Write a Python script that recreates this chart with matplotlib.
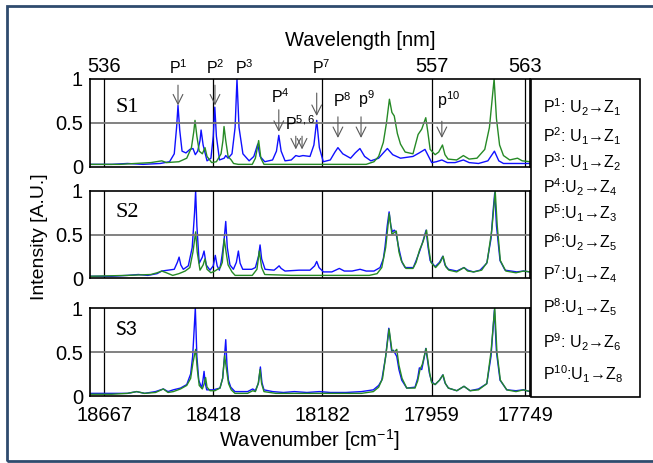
#!/usr/bin/env python3

import numpy as np
import matplotlib
matplotlib.use("Agg")
import matplotlib.pyplot as plt
from matplotlib.patches import Rectangle

# spectra: (wavelength nm, intensity A.U.)
s1_blue = [(535.10, 0.03), (536.5, 0.03), (537.5, 0.04), (538.5, 0.03), (539.6, 0.04), (540.2, 0.06),
           (540.5, 0.15), (540.65, 0.45), (540.74, 0.70), (540.85, 0.42), (541.0, 0.18), (541.25, 0.16),
           (541.5, 0.20), (541.7, 0.21), (541.85, 0.14), (542.0, 0.18), (542.15, 0.30), (542.22, 0.42),
           (542.35, 0.25), (542.6, 0.07), (542.85, 0.10), (543.0, 0.35), (543.1, 0.68), (543.2, 0.35),
           (543.4, 0.08), (543.7, 0.10), (543.8, 0.13), (543.95, 0.10), (544.2, 0.15), (544.4, 0.45),
           (544.52, 1.0), (544.65, 0.45), (544.9, 0.15), (545.3, 0.07), (545.6, 0.12), (545.85, 0.26),
           (546.0, 0.12), (546.3, 0.06), (546.8, 0.08), (547.05, 0.18), (547.2, 0.36), (547.35, 0.18),
           (547.6, 0.07), (548.0, 0.08), (548.29, 0.13), (548.5, 0.12), (548.75, 0.13), (549.2, 0.12),
           (549.45, 0.25), (549.63, 0.53), (549.8, 0.22), (550.05, 0.06), (550.5, 0.08), (550.8, 0.17),
           (550.99, 0.22), (551.3, 0.15), (551.8, 0.10), (552.1, 0.16), (552.4, 0.21), (552.7, 0.12),
           (553.1, 0.07), (553.6, 0.10), (553.95, 0.17), (554.16, 0.21), (554.5, 0.14), (555.0, 0.10),
           (555.8, 0.12), (556.2, 0.16), (556.57, 0.20), (556.8, 0.12), (557.0, 0.05), (557.3, 0.06),
           (557.65, 0.08), (558.0, 0.05), (558.5, 0.05), (559.03, 0.08), (559.4, 0.05), (560.0, 0.04),
           (560.6, 0.07), (561.02, 0.18), (561.3, 0.07), (561.6, 0.04), (562.5, 0.04), (563.31, 0.04)]
s1_green = [(535.10, 0.03), (537.0, 0.03), (538.0, 0.04), (539.0, 0.05), (539.7, 0.07), (540.0, 0.05),
            (540.8, 0.06), (541.3, 0.10), (541.6, 0.22), (541.75, 0.40), (541.83, 0.53), (541.95, 0.35),
            (542.1, 0.18), (542.3, 0.15), (542.47, 0.22), (542.6, 0.12), (542.9, 0.05), (543.2, 0.06),
            (543.5, 0.15), (543.62, 0.30), (543.69, 0.46), (543.8, 0.30), (543.95, 0.12), (544.15, 0.08),
            (544.3, 0.04), (544.6, 0.03), (545.5, 0.03), (545.7, 0.10), (545.91, 0.30), (546.05, 0.10),
            (546.25, 0.03), (548.0, 0.03), (550.0, 0.03), (552.0, 0.03), (552.8, 0.03), (553.3, 0.06),
            (553.6, 0.12), (553.9, 0.28), (554.1, 0.50), (554.29, 0.77), (554.45, 0.62), (554.6, 0.58),
            (554.8, 0.38), (555.0, 0.26), (555.3, 0.17), (555.8, 0.15), (556.13, 0.37), (556.36, 0.43),
            (556.62, 0.56), (556.75, 0.40), (556.9, 0.20), (557.22, 0.14), (557.45, 0.17), (557.69, 0.25),
            (557.85, 0.14), (558.05, 0.09), (558.6, 0.08), (559.03, 0.13), (559.4, 0.09), (559.9, 0.10),
            (560.4, 0.20), (560.7, 0.45), (561.0, 1.0), (561.15, 0.55), (561.35, 0.25), (561.6, 0.13),
            (562.0, 0.08), (562.5, 0.10), (562.8, 0.07), (563.31, 0.06)]
s2_blue = [(535.10, 0.02), (536.5, 0.02), (537.5, 0.03), (538.2, 0.04), (538.8, 0.03), (539.4, 0.05),
           (539.7, 0.08), (540.1, 0.09), (540.5, 0.10), (540.7, 0.18), (540.81, 0.24), (540.92, 0.15),
           (541.08, 0.10), (541.4, 0.14), (541.65, 0.35), (541.8, 0.75), (541.87, 1.0), (541.95, 0.60),
           (542.1, 0.17), (542.3, 0.24), (542.41, 0.31), (542.55, 0.15), (542.79, 0.09), (543.0, 0.14),
           (543.13, 0.26), (543.25, 0.14), (543.39, 0.09), (543.5, 0.18), (543.58, 0.28), (543.7, 0.45),
           (543.8, 0.65), (543.9, 0.35), (544.07, 0.15), (544.29, 0.10), (544.48, 0.18), (544.61, 0.31),
           (544.72, 0.17), (544.89, 0.10), (545.47, 0.10), (545.7, 0.12), (545.9, 0.25), (546.0, 0.38),
           (546.1, 0.22), (546.32, 0.10), (546.9, 0.09), (547.1, 0.12), (547.22, 0.14), (547.35, 0.11),
           (547.6, 0.08), (548.5, 0.09), (549.2, 0.09), (549.5, 0.14), (549.63, 0.19), (549.78, 0.12),
           (550.06, 0.07), (550.6, 0.07), (551.08, 0.11), (551.4, 0.08), (551.9, 0.08), (552.41, 0.10),
           (552.8, 0.08), (553.3, 0.08), (553.69, 0.12), (553.9, 0.22), (554.01, 0.36), (554.15, 0.60),
           (554.27, 0.76), (554.38, 0.60), (554.48, 0.53), (554.6, 0.55), (554.7, 0.53), (554.85, 0.38),
           (554.97, 0.28), (555.1, 0.18), (555.29, 0.12), (555.82, 0.12), (556.0, 0.20), (556.21, 0.30),
           (556.4, 0.40), (556.64, 0.55), (556.77, 0.35), (556.9, 0.20), (557.22, 0.13), (557.5, 0.18),
           (557.71, 0.25), (557.85, 0.15), (558.07, 0.10), (558.61, 0.08), (559.07, 0.12), (559.3, 0.09),
           (559.67, 0.07), (560.1, 0.09), (560.53, 0.17), (560.8, 0.45), (560.95, 0.80), (561.04, 0.98),
           (561.15, 0.60), (561.38, 0.20), (561.7, 0.09), (562.45, 0.07), (562.88, 0.08), (563.31, 0.07)]
s2_green = [(535.10, 0.02), (537.5, 0.03), (538.2, 0.035), (539.0, 0.04), (539.4, 0.06), (539.7, 0.08),
            (540.0, 0.06), (540.4, 0.03), (540.8, 0.05), (541.2, 0.08), (541.5, 0.12), (541.7, 0.30),
            (541.87, 0.53), (541.97, 0.30), (542.15, 0.09), (542.35, 0.15), (542.47, 0.22), (542.6, 0.10),
            (542.85, 0.06), (543.1, 0.08), (543.45, 0.12), (543.58, 0.18), (543.7, 0.45), (543.82, 0.30),
            (543.95, 0.15), (544.2, 0.07), (544.4, 0.03), (545.5, 0.03), (545.8, 0.10), (545.95, 0.31),
            (546.1, 0.12), (546.3, 0.04), (548.0, 0.03), (550.0, 0.03), (552.0, 0.03), (553.0, 0.03),
            (553.5, 0.05), (553.8, 0.12), (554.05, 0.35), (554.28, 0.74), (554.45, 0.50), (554.58, 0.52),
            (554.73, 0.54), (554.9, 0.30), (555.05, 0.20), (555.35, 0.11), (555.8, 0.11), (556.0, 0.18),
            (556.22, 0.32), (556.45, 0.42), (556.67, 0.55), (556.8, 0.35), (556.95, 0.18), (557.25, 0.12),
            (557.55, 0.18), (557.73, 0.25), (557.9, 0.13), (558.1, 0.09), (558.6, 0.07), (559.07, 0.12),
            (559.3, 0.08), (559.7, 0.07), (560.2, 0.09), (560.55, 0.18), (560.85, 0.55), (561.07, 1.0),
            (561.2, 0.60), (561.4, 0.20), (561.75, 0.08), (562.4, 0.06), (562.88, 0.08), (563.31, 0.07)]
s3_blue = [(535.10, 0.03), (536.5, 0.03), (537.5, 0.03), (538.09, 0.05), (538.6, 0.03), (539.3, 0.05),
           (539.8, 0.08), (540.1, 0.05), (540.44, 0.07), (540.9, 0.09), (541.3, 0.13), (541.55, 0.25),
           (541.68, 0.45), (541.85, 1.0), (541.95, 0.45), (542.07, 0.18), (542.26, 0.09), (542.34, 0.18),
           (542.41, 0.28), (542.48, 0.15), (542.58, 0.07), (543.0, 0.07), (543.43, 0.09), (543.6, 0.20),
           (543.72, 0.45), (543.8, 0.64), (543.88, 0.35), (543.97, 0.18), (544.12, 0.10), (544.39, 0.05),
           (545.2, 0.05), (545.53, 0.08), (545.7, 0.06), (545.9, 0.15), (546.02, 0.33), (546.12, 0.15),
           (546.25, 0.07), (546.8, 0.05), (547.5, 0.04), (548.2, 0.05), (549.0, 0.04), (549.8, 0.05),
           (550.5, 0.04), (551.5, 0.04), (552.5, 0.05), (553.26, 0.07), (553.6, 0.12), (553.8, 0.18),
           (554.05, 0.45), (554.25, 0.77), (554.44, 0.50), (554.54, 0.52), (554.76, 0.45), (554.9, 0.30),
           (555.08, 0.18), (555.4, 0.09), (555.93, 0.10), (556.1, 0.20), (556.21, 0.32), (556.36, 0.30),
           (556.5, 0.42), (556.62, 0.54), (556.74, 0.40), (556.85, 0.26), (557.0, 0.16), (557.22, 0.13),
           (557.5, 0.18), (557.71, 0.24), (557.85, 0.15), (558.07, 0.09), (558.61, 0.06), (559.07, 0.11),
           (559.46, 0.06), (560.0, 0.08), (560.53, 0.14), (560.8, 0.45), (561.02, 0.98), (561.15, 0.50),
           (561.38, 0.18), (561.81, 0.07), (562.4, 0.06), (562.88, 0.07), (563.31, 0.05)]
s3_green = [(535.10, 0.02), (536.5, 0.02), (537.5, 0.03), (538.09, 0.05), (538.6, 0.03), (539.3, 0.04),
            (539.8, 0.08), (540.1, 0.04), (540.44, 0.05), (540.9, 0.08), (541.3, 0.12), (541.55, 0.20),
            (541.7, 0.38), (541.87, 0.53), (541.98, 0.30), (542.1, 0.12), (542.3, 0.08), (542.42, 0.14),
            (542.51, 0.21), (542.6, 0.10), (542.8, 0.06), (543.1, 0.06), (543.43, 0.09), (543.6, 0.20),
            (543.73, 0.46), (543.85, 0.30), (543.98, 0.14), (544.15, 0.07), (544.39, 0.03), (545.2, 0.03),
            (545.53, 0.06), (545.7, 0.05), (545.88, 0.14), (546.0, 0.30), (546.1, 0.14), (546.25, 0.05),
            (547.0, 0.03), (548.5, 0.03), (550.0, 0.03), (551.5, 0.03), (552.5, 0.03), (553.26, 0.05),
            (553.6, 0.10), (553.85, 0.20), (554.05, 0.45), (554.27, 0.76), (554.45, 0.52), (554.6, 0.50),
            (554.76, 0.53), (554.9, 0.35), (555.1, 0.20), (555.4, 0.09), (555.93, 0.09), (556.1, 0.17),
            (556.25, 0.30), (556.4, 0.36), (556.52, 0.45), (556.64, 0.54), (556.76, 0.40), (556.88, 0.25),
            (557.0, 0.15), (557.22, 0.13), (557.5, 0.18), (557.73, 0.24), (557.88, 0.14), (558.07, 0.09),
            (558.61, 0.06), (559.07, 0.11), (559.46, 0.06), (560.0, 0.07), (560.53, 0.14), (560.8, 0.50),
            (561.04, 1.0), (561.18, 0.50), (561.4, 0.18), (561.81, 0.07), (562.4, 0.05), (562.88, 0.07),
            (563.31, 0.05)]

panels = [("S1", s1_blue, s1_green), ("S2", s2_blue, s2_green), ("S3", s3_blue, s3_green)]

grid_nm = [536, 543, 550, 557, 563]
top_ticks = [536, 557, 563]
wavenumbers = ["18667", "18418", "18182", "17959", "17749"]

# peak labels in S1: text, text position (nm, y), arrows (nm, from, to)
peak_text = ["P$^{1}$", "P$^{2}$", "P$^{3}$", "P$^{4}$", "P$^{5,6}$", "P$^{7}$", "P$^{8}$", "p$^{9}$", "p$^{10}$"]
peak_text_pos = [(540.77, 1.125), (543.14, 1.125), (544.97, 1.125), (547.28, 0.80), (548.56, 0.49),
                 (549.91, 1.125), (551.25, 0.75), (552.79, 0.77), (558.05, 0.76)]
peak_arrows = [(540.74, 0.93, 0.70), (543.11, 0.93, 0.70), (547.2, 0.65, 0.40), (548.29, 0.35, 0.20),
               (548.69, 0.35, 0.20), (549.63, 0.84, 0.58), (550.99, 0.57, 0.33), (552.47, 0.57, 0.33),
               (557.65, 0.52, 0.33)]

legend_lines = ["P$^{1}$: U$_{2}$\u2192Z$_{1}$", "P$^{2}$: U$_{1}$\u2192Z$_{1}$", "P$^{3}$: U$_{1}$\u2192Z$_{2}$",
                "P$^{4}$:U$_{2}$\u2192Z$_{4}$", "P$^{5}$:U$_{1}$\u2192Z$_{3}$", "P$^{6}$:U$_{2}$\u2192Z$_{5}$",
                "P$^{7}$:U$_{1}$\u2192Z$_{4}$", "P$^{8}$:U$_{1}$\u2192Z$_{5}$", "P$^{9}$: U$_{2}$\u2192Z$_{6}$",
                "P$^{10}$:U$_{1}$\u2192Z$_{8}$"]


def main():
    plt.rcParams['font.family'] = ['Liberation Sans', 'DejaVu Sans']
    plt.rcParams['mathtext.fontset'] = 'custom'
    plt.rcParams['mathtext.rm'] = 'Liberation Sans'
    plt.rcParams['mathtext.it'] = 'Liberation Sans:italic'
    plt.rcParams['mathtext.bf'] = 'Liberation Sans:bold'

    W, H = 653, 463
    fig = plt.figure(figsize=(W / 100, H / 100), dpi=100)

    # outer frame, open on the right
    fig.patches.append(Rectangle((6.5 / W, 1 - 460.5 / H), 1.0, (460.5 - 6) / H, transform=fig.transFigure,
                                 fill=False, edgecolor='#2f4b6e', lw=2.0, clip_on=False))

    tops = [79, 191, 308]
    bottoms = [167, 278, 396]
    name_y = [0.68, 0.75, 0.76]
    axes = []
    for i, (name, blue, green) in enumerate(panels):
        ax = fig.add_axes([90 / W, 1 - bottoms[i] / H, 440 / W, (bottoms[i] - tops[i]) / H])
        b = np.array(blue).T
        g = np.array(green).T
        ax.plot(b[0], b[1], color='#1010ff', lw=1.0)
        ax.plot(g[0], g[1], color='#268a26', lw=1.0)
        ax.set_xlim(535.1, 563.3)
        ax.set_ylim(0, 1)
        ax.set_yticks([0, 0.5, 1])
        ax.set_yticklabels(["0", "0.5", "1"])
        ax.set_xticks(grid_nm)
        ax.grid(axis='x', color='black', lw=0.9)
        ax.axhline(0.5, color='#777777', lw=1.3)
        ax.tick_params(length=0, labelsize=14.5, pad=5)
        if i < 2:
            ax.set_xticklabels([])
        else:
            ax.set_xticklabels(wavenumbers)
            ax.tick_params(axis='x', pad=7.5)
        for s in ax.spines.values():
            s.set_linewidth(1.2)
        if name == "S3":
            ax.text(0.057, name_y[i], name, transform=ax.transAxes, fontsize=14, family=['Lato', 'DejaVu Sans'],
                    va='center')
        else:
            ax.text(0.057, name_y[i], name, transform=ax.transAxes, fontsize=16, family=['Liberation Serif'],
                    va='center')
        axes.append(ax)

    top = axes[0].secondary_xaxis('top')
    top.set_xticks(top_ticks)
    top.set_xticklabels([str(t) for t in top_ticks])
    top.tick_params(length=0, labelsize=14.5, pad=2)
    top.spines['top'].set_visible(False)

    ax1 = axes[0]
    for t, (x, y) in zip(peak_text, peak_text_pos):
        ax1.text(x, y, t, fontsize=11.5, ha='center', va='center', clip_on=False)
    for x, y0, y1 in peak_arrows:
        ax1.annotate('', xy=(x, y1), xytext=(x, y0), annotation_clip=False,
                     arrowprops=dict(arrowstyle='->,head_length=0.7,head_width=0.35', color='0.35', lw=0.8,
                                     shrinkA=0, shrinkB=0))

    fig.text(360 / W, 1 - 40 / H, "Wavelength [nm]", fontsize=14.5, ha='center', va='center')
    fig.text(309 / W, 1 - 440 / H, "Wavenumber [cm$^{-1}$]", fontsize=14.5, ha='center', va='center')
    fig.text(40 / W, 1 - 237 / H, "Intensity [A.U.]", fontsize=14, ha='center', va='center', rotation=90)

    # transitions box on the right
    fig.patches.append(Rectangle((531 / W, 1 - 397 / H), 109 / W, 318 / H, transform=fig.transFigure,
                                 facecolor='white', edgecolor='black', lw=1.2))
    legend_y = [107, 136, 162, 187, 213, 242, 274, 307, 342, 374]
    for t, y in zip(legend_lines, legend_y):
        fig.text(543 / W, 1 - y / H, t, fontsize=11.5, ha='left', va='center')

    fig.savefig("out.png", dpi=100)


if __name__ == "__main__":
    main()
